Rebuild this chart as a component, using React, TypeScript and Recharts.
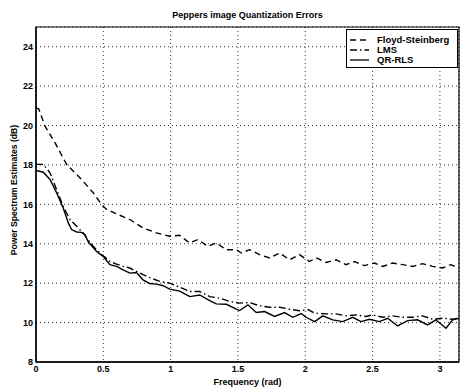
import { LineChart, Line, XAxis, YAxis, CartesianGrid, ReferenceArea, Legend, Label } from 'recharts';

// Floyd-Steinberg (dashed)
const freqFloyd = [0, 0.02, 0.067, 0.141, 0.227, 0.326, 0.425, 0.487, 0.524, 0.61, 0.697, 0.795, 0.895, 0.993, 1.067, 1.14, 1.203, 1.277, 1.339, 1.414, 1.488, 1.525, 1.586, 1.66, 1.735, 1.809, 1.883, 1.957, 2.03, 2.08, 2.155, 2.229, 2.303, 2.365, 2.439, 2.513, 2.575, 2.649, 2.723, 2.797, 2.871, 2.945, 3.02, 3.08, 3.14];
const powerFloyd = [20.9, 20.85, 19.97, 19.13, 18.03, 17.35, 16.59, 15.99, 15.74, 15.48, 15.23, 14.8, 14.55, 14.38, 14.43, 14.04, 14.21, 13.87, 14.04, 13.7, 13.7, 13.53, 13.7, 13.45, 13.28, 13.53, 13.19, 13.45, 13.1, 13.28, 13.05, 13.19, 12.94, 13.1, 12.89, 13.02, 12.85, 13.02, 12.94, 12.85, 12.99, 12.85, 12.77, 12.94, 12.77];

// LMS (dash-dot)
const freqLms = [0, 0.054, 0.104, 0.153, 0.202, 0.252, 0.302, 0.351, 0.376, 0.425, 0.45, 0.499, 0.549, 0.598, 0.647, 0.697, 0.746, 0.795, 0.845, 0.919, 0.993, 1.067, 1.142, 1.216, 1.29, 1.364, 1.438, 1.512, 1.586, 1.66, 1.735, 1.809, 1.883, 1.957, 2.02, 2.07, 2.155, 2.229, 2.303, 2.377, 2.45, 2.5, 2.575, 2.649, 2.723, 2.797, 2.871, 2.945, 3.02, 3.094, 3.14];
const powerLms = [18.03, 18.03, 17.6, 16.75, 15.9, 15.23, 14.89, 14.55, 14.3, 13.87, 13.7, 13.39, 13.1, 12.97, 12.85, 12.77, 12.6, 12.43, 12.28, 12.09, 12.0, 11.8, 11.58, 11.58, 11.32, 11.24, 11.07, 10.99, 11.02, 10.85, 10.78, 10.78, 10.68, 10.6, 10.66, 10.48, 10.44, 10.44, 10.34, 10.39, 10.31, 10.39, 10.27, 10.34, 10.27, 10.27, 10.34, 10.17, 10.22, 10.17, 10.22];

// QR-RLS (solid)
const freqQr = [0, 0.054, 0.104, 0.153, 0.202, 0.24, 0.264, 0.302, 0.339, 0.363, 0.388, 0.45, 0.499, 0.549, 0.598, 0.647, 0.697, 0.746, 0.795, 0.845, 0.895, 0.944, 0.993, 1.067, 1.142, 1.216, 1.29, 1.339, 1.414, 1.488, 1.512, 1.574, 1.636, 1.698, 1.772, 1.846, 1.907, 1.97, 2.006, 2.07, 2.13, 2.204, 2.278, 2.352, 2.414, 2.476, 2.55, 2.612, 2.686, 2.76, 2.834, 2.908, 2.97, 3.045, 3.094, 3.14];
const powerQr = [17.72, 17.63, 17.26, 16.59, 15.82, 15.06, 14.72, 14.6, 14.58, 14.46, 14.1, 13.61, 13.36, 12.94, 12.85, 12.68, 12.51, 12.54, 12.17, 11.98, 11.95, 11.87, 11.7, 11.6, 11.32, 11.4, 11.12, 10.95, 10.93, 10.68, 10.61, 10.9, 10.51, 10.56, 10.31, 10.51, 10.27, 10.46, 10.27, 10.05, 10.34, 10.14, 10.05, 10.27, 10.05, 10.17, 10.05, 10.22, 9.83, 10.1, 10.14, 9.88, 10.14, 9.71, 10.14, 10.22];

const xTicks = [0, 0.5, 1, 1.5, 2, 2.5, 3];
const yTicks = [8, 10, 12, 14, 16, 18, 20, 22, 24];
const seriesNames = ['Floyd-Steinberg', 'LMS', 'QR-RLS'];

const dashes = ['6 4', '7 3 1.5 3', undefined];
const font = '"Liberation Sans", Arial, sans-serif';

const zip = (f: number[], v: number[]) => f.map((x, i) => ({ f: x, v: v[i] }));
const series = [zip(freqFloyd, powerFloyd), zip(freqLms, powerLms), zip(freqQr, powerQr)];

const LegendBox = () => (
  <div style={{ width: 112, height: 39, border: '1.3px solid #000', background: '#fff', boxSizing: 'border-box', paddingTop: 5, fontFamily: font, fontWeight: 'bold', fontSize: 9.5 }}>
    {seriesNames.map((n, i) => (
      <div key={n} style={{ display: 'flex', alignItems: 'center', height: 10 }}>
        <svg width={30} height={10} style={{ flex: 'none' }}>
          <line x1={3} x2={22} y1={5} y2={5} stroke="#000" strokeWidth={1.3} strokeDasharray={dashes[i]} />
        </svg>
        <span style={{ lineHeight: '10px' }}>{n}</span>
      </div>
    ))}
  </div>
);

export default function App() {
  return (
    <div style={{ position: 'absolute', left: 0, top: 0, width: 461, height: 388, background: '#fff' }}>
      <div style={{ position: 'absolute', left: 36, width: 423, top: 10, textAlign: 'center', fontFamily: font, fontWeight: 'bold', fontSize: 9 }}>
        Peppers image Quantization Errors
      </div>
      <LineChart width={461} height={388} margin={{ top: 27, right: 2, bottom: 0, left: 0 }}>
        <CartesianGrid stroke="#333" strokeDasharray="1 3" />
        <XAxis
          type="number"
          dataKey="f"
          domain={[0, Math.PI]}
          ticks={xTicks}
          allowDataOverflow
          height={26}
          tickSize={0}
          tickMargin={4}
          axisLine={{ stroke: '#000', strokeWidth: 1.3 }}
          tick={{ fill: '#000', fontSize: 9, fontWeight: 'bold', fontFamily: font }}
        >
          <Label value="Frequency (rad)" position="insideBottom" offset={3} style={{ fill: '#000', fontSize: 9, fontWeight: 'bold', fontFamily: font }} />
        </XAxis>
        <YAxis
          type="number"
          domain={[8, 25]}
          ticks={yTicks}
          allowDataOverflow
          width={36}
          tickSize={0}
          tickMargin={3}
          axisLine={{ stroke: '#000', strokeWidth: 1.3 }}
          tick={{ fill: '#000', fontSize: 9, fontWeight: 'bold', fontFamily: font }}
        >
          <Label
            content={() => {
              const cx = 14;
              const cy = 190;
              return (
                <text x={cx} y={cy} transform={`rotate(-90 ${cx} ${cy})`} textAnchor="middle" dominantBaseline="central" fill="#000" fontSize={8.6} fontWeight="bold" fontFamily={font}>
                  Power Spectrum Estimates (dB)
                </text>
              );
            }}
          />
        </YAxis>
        <ReferenceArea x1={0} x2={Math.PI} y1={8} y2={25} fill="none" stroke="#000" strokeWidth={1.2} ifOverflow="visible" />
        {series.map((d, i) => (
          <Line
            key={seriesNames[i]}
            data={d}
            dataKey="v"
            name={seriesNames[i]}
            type="linear"
            stroke="#000"
            strokeWidth={1.4}
            strokeDasharray={dashes[i]}
            dot={false}
            activeDot={false}
            isAnimationActive={false}
          />
        ))}
        <Legend
          layout="vertical"
          align="center"
          verticalAlign="middle"
          content={<LegendBox />}
          wrapperStyle={{ position: 'absolute', left: 346, top: 29, width: 112, height: 39 }}
        />
      </LineChart>
    </div>
  );
}
